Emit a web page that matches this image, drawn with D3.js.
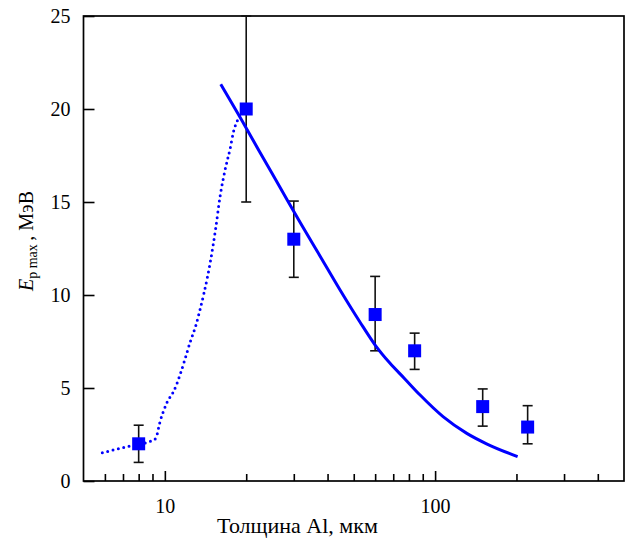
<!DOCTYPE html>
<html>
<head>
<meta charset="utf-8">
<script src="https://cdn.jsdelivr.net/npm/d3@7"></script>
<style>
  body { margin: 0; background: #fff; }
  svg text { font-family: "Liberation Serif", "Times New Roman", "DejaVu Serif", serif !important; fill: #000; }
</style>
</head>
<body>
<div id="corpo"></div>
<script>
// measured points (thickness um, Ep max MeV) with error bars
var ptX  = [8, 20, 30, 60, 84, 150, 220];
var ptY  = [2, 20, 13, 8.95, 7, 4, 2.9];
var ptLo = [1, 15, 10.95, 7, 6, 2.95, 2];
var ptHi = [3, 25, 15.05, 11, 7.95, 4.95, 4.05];

// solid curve
var fitX = [16.1, 19.8, 22.5, 26.7, 31.6, 37.5, 44.5, 52.7, 60, 68, 76.7, 88, 107, 131, 155, 202];
var fitY = [21.33, 19.09, 17.66, 15.78, 13.92, 12.1, 10.27, 8.55, 7.31, 6.34, 5.54, 4.62, 3.46, 2.56, 2.0, 1.31];

// dotted curve
var dotX = [5.87, 6.46, 7.4, 8.9, 9.3, 9.4, 9.6, 9.9, 10.16, 10.8, 11.4, 11.9, 12.4, 13.0, 13.5, 13.95, 14.4, 14.85, 15.45, 16.0, 16.7, 17.45, 17.95, 18.6, 19.0];
var dotY = [1.52, 1.67, 1.88, 2.15, 2.33, 2.62, 3.19, 3.78, 4.19, 4.85, 5.74, 6.6, 7.46, 8.33, 9.23, 10.09, 11.02, 12.07, 13.67, 15.28, 16.72, 17.89, 18.78, 19.41, 19.7];

var xMajor = [10, 100];
var xMinor = [6, 7, 8, 9, 20, 30, 40, 50, 60, 70, 80, 90, 200, 300, 400];
var yTicks = [0, 5, 10, 15, 20, 25];

var width = 628, height = 538;
var margin = {left: 83.5, right: 4, top: 16, bottom: 57};
var serif = "'Liberation Serif', 'Times New Roman', 'DejaVu Serif', serif";

var x = d3.scaleLog().domain([5, 500]).range([margin.left, width - margin.right]);
var y = d3.scaleLinear().domain([0, 25]).range([height - margin.bottom, margin.top]);

var svg = d3.select("#corpo").append("svg")
    .attr("width", width)
    .attr("height", height)
    .attr("font-family", serif);

var blue = "#0000ff";

// x axis: major ticks with labels, minor ticks without
var gxMaj = svg.append("g")
    .attr("transform", "translate(0," + y(0) + ")")
    .call(d3.axisBottom(x).tickValues(xMajor).tickSize(-10).tickPadding(18).tickFormat(d3.format("d")));
var gxMin = svg.append("g")
    .attr("transform", "translate(0," + y(0) + ")")
    .call(d3.axisBottom(x).tickValues(xMinor).tickSize(-7).tickFormat(""));

var gy = svg.append("g")
    .attr("transform", "translate(" + margin.left + ",0)")
    .call(d3.axisLeft(y).tickValues(yTicks).tickSize(-11).tickPadding(13));

[gxMaj, gxMin, gy].forEach(function(g){
    g.attr("font-family", serif).attr("font-size", 20);
    g.select(".domain").remove();
    g.selectAll("line").attr("stroke", "#000").attr("stroke-width", 1.6);
    g.selectAll("text").attr("fill", "#000");
});

// frame
svg.append("rect")
    .attr("x", x(5))
    .attr("y", y(25))
    .attr("width", x(500) - x(5))
    .attr("height", y(0) - y(25))
    .attr("fill", "none")
    .attr("stroke", "#000")
    .attr("stroke-width", 1.7);

// error bars
var pts = ptX.map(function(v, i){ return {x: v, y: ptY[i], lo: ptLo[i], hi: ptHi[i]}; });
var eb = svg.append("g").attr("stroke", "#111").attr("stroke-width", 1.6);
pts.forEach(function(d){
    eb.append("line").attr("x1", x(d.x)).attr("x2", x(d.x)).attr("y1", y(d.lo)).attr("y2", y(d.hi));
    eb.append("line").attr("x1", x(d.x) - 5).attr("x2", x(d.x) + 5).attr("y1", y(d.lo)).attr("y2", y(d.lo));
    eb.append("line").attr("x1", x(d.x) - 5).attr("x2", x(d.x) + 5).attr("y1", y(d.hi)).attr("y2", y(d.hi));
});

var line = d3.line()
    .x(function(d){ return x(d[0]); })
    .y(function(d){ return y(d[1]); })
    .curve(d3.curveMonotoneX);

svg.append("path")
    .attr("d", line(dotX.map(function(v, i){ return [v, dotY[i]]; })))
    .attr("fill", "none")
    .attr("stroke", blue)
    .attr("stroke-width", 3)
    .attr("stroke-linecap", "round")
    .attr("stroke-dasharray", "0 5.5");

svg.append("path")
    .attr("d", line(fitX.map(function(v, i){ return [v, fitY[i]]; })))
    .attr("fill", "none")
    .attr("stroke", blue)
    .attr("stroke-width", 3);

// squares
var s = 13;
svg.selectAll(".pt").data(pts).enter().append("rect")
    .attr("class", "pt")
    .attr("x", function(d){ return x(d.x) - s / 2; })
    .attr("y", function(d){ return y(d.y) - s / 2; })
    .attr("width", s)
    .attr("height", s)
    .attr("fill", blue);

// axis titles
svg.append("text")
    .attr("x", 297.5)
    .attr("y", 533)
    .attr("text-anchor", "middle")
    .attr("font-size", 22)
    .text("Толщина Al, мкм");

var yt = svg.append("text")
    .attr("transform", "translate(33,241) rotate(-90)")
    .attr("text-anchor", "middle")
    .attr("font-size", 20);
yt.append("tspan").attr("font-style", "italic").text("E");
yt.append("tspan").attr("dy", 4).attr("font-size", 14).text("p max ");
yt.append("tspan").attr("dy", -4).text(", МэВ");
</script>
</body>
</html>
